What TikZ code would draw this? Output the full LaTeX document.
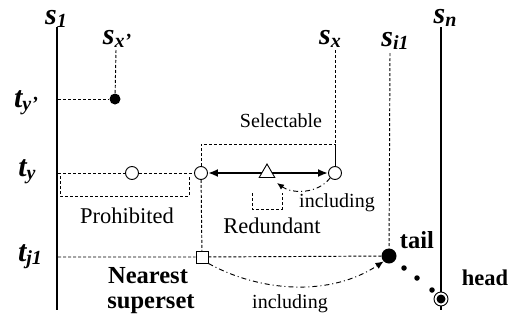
\documentclass[tikz,border=0pt]{standalone}
\usepackage{fontspec}
\setmainfont{Liberation Serif}
\usetikzlibrary{arrows.meta,shapes.geometric}
\newcommand{\vlab}[2]{{\fontsize{30}{30}\selectfont\bfseries\itshape #1}\raisebox{-0.3em}{\fontsize{20}{20}\selectfont\bfseries\itshape #2}}
\begin{document}
\begin{tikzpicture}[x=1pt,y=-1pt,
  dsh/.style={dash pattern=on 3pt off 2pt, line width=0.95pt},
  ddot/.style={dash pattern=on 5pt off 3pt on 1pt off 3pt, line width=0.95pt},
  axis/.style={line width=1.1pt},
  ocirc/.style={circle,draw,fill=white,line width=0.9pt,minimum size=13pt,inner sep=0},
  fdot/.style={circle,fill=black,inner sep=0},
  lbl/.style={inner sep=0,font=\fontsize{22.5}{22.5}\selectfont},
  slbl/.style={inner sep=0,font=\fontsize{20}{20}\selectfont},
  blbl/.style={inner sep=0,font=\fontsize{24.5}{24.5}\selectfont\bfseries},
  vl/.style={inner sep=0}]
\useasboundingbox (0,0) rectangle (517,327);
% axis labels
\node[vl] (ls1) at (56,19) {\vlab{s}{1}};
\node[vl] (lsxp) at (117,39) {\vlab{s}{x'}};
\node[vl] (lsx) at (330,39) {\vlab{s}{x}};
\node[vl] (lsi) at (395,41) {\vlab{s}{i1}};
\node[vl] (lsn) at (445,18) {\vlab{s}{n}};
\node[vl] (lty) at (26,103) {\vlab{t}{y'}};
\node[vl] (ltyy) at (27,172) {\vlab{t}{y}};
\node[vl] (ltj) at (30,257) {\vlab{t}{j1}};
% vertical axes
\coordinate (s1top) at (57,27);
\coordinate (s1bot) at (57,310);
\coordinate (sntop) at (441,27);
\coordinate (snbot) at (441,310);
\draw[axis] (s1top) -- (s1bot);
% nodes
\node[fdot,minimum size=11pt] (d1) at (115,99) {};
\node[ocirc] (c1) at (132,173) {};
\node[ocirc] (c2) at (201,173) {};
\node[ocirc] (c3) at (335,173) {};
\node[rectangle,draw,fill=white,line width=0.9pt,minimum size=12pt,inner sep=0] (sq) at (202,257) {};
\node[fdot,minimum size=15pt] (tail) at (389,256) {};
\node[fdot,minimum size=5.5pt] (p1) at (404,268) {};
\node[fdot,minimum size=5.5pt] (p2) at (417,278) {};
\node[fdot,minimum size=5.5pt] (p3) at (432,290) {};
% coordinates
\coordinate (sxptop) at (116,50);
\coordinate (sxtop) at (335,50);
\coordinate (sitop) at (390,53);
\coordinate (ty1) at (58,99);
\coordinate (ty2) at (58,173);
\coordinate (tj) at (58,257);
% dashed lines
\draw[dsh] (sxptop) -- (d1);
\draw[dsh] (ty1) -- (d1);
\draw[dsh] (ty2) -- (c1) -- (c2);
\draw[dsh] (sxtop) -- (c3);
\draw[dsh] (sitop) -- (tail);
\draw[dsh] (c2) -- (sq);
\draw[dsh] (tj) -- (sq) -- (tail);
% brackets
\draw[dsh] (60,176) -- (60,196) -- (189,196) -- (189,176);
\draw[dsh] (c2.north) -- (201,144) -- (335,144) -- (c3.north);
\draw[dsh] (252,193) -- (252,209) -- (282,209) -- (282,193);
% thick double arrow
\draw[line width=2.2pt,{Latex[length=10pt,width=8pt]}-{Latex[length=10pt,width=8pt]}] (c2) -- (c3);
\node[regular polygon,regular polygon sides=3,draw,fill=white,line width=0.9pt,minimum size=18pt,inner sep=0] (tri) at (267,173) {};
% dash-dot curves
\draw[ddot,-{Latex[length=7pt,width=6pt]}] (c3.south west) .. controls (318,194) and (292,194) .. (277,183);
\draw[ddot,-{Latex[length=8pt,width=7pt]}] (sq.south east) .. controls (260,292) and (330,297) .. (tail.south west);
% head
\draw[axis] (sntop) -- (snbot);
\node[circle,draw,fill=white,line width=0.9pt,minimum size=14pt,inner sep=0] (head) at (441,299) {};
\node[fdot,minimum size=9pt] (headin) at (head) {};
% texts
\node[slbl] (tsel) at (281,121) {Selectable};
\node[lbl] (tpro) at (127,216) {Prohibited};
\node[lbl] (tred) at (272,226) {Redundant};
\node[slbl] (tinc1) at (337,203) {including};
\node[slbl] (tinc2) at (290,304) {including};
\node[blbl] (ttail) at (417,240) {tail};
\node[blbl,font=\fontsize{22.5}{22.5}\selectfont\bfseries] (thead) at (485,278) {head};
\node[blbl,text height=16pt,text depth=0pt] (tnear) at (148,275) {Nearest};
\node[blbl,text height=16pt,text depth=5pt] (tsup) at (151,303) {superset};
\end{tikzpicture}
\end{document}
